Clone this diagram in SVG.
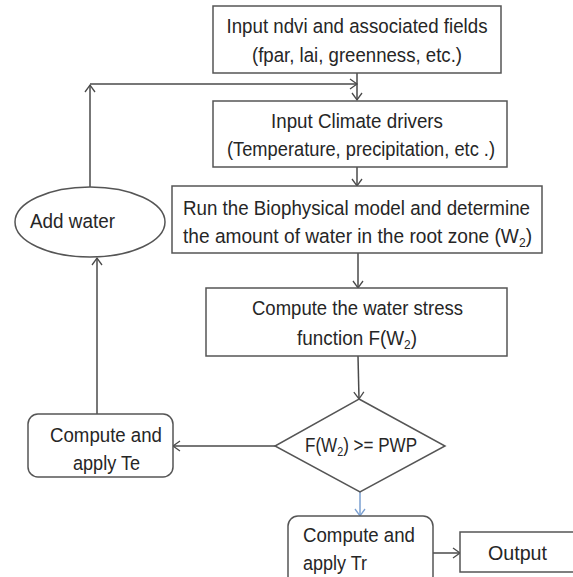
<svg xmlns="http://www.w3.org/2000/svg" width="573" height="577" viewBox="0 0 573 577">
<defs>
<style>
.box{fill:#fff;stroke:#555;stroke-width:1.5}
.t{font-family:"Liberation Sans",Arial,sans-serif;font-size:20.5px;fill:#262626}
.c{stroke:#4a4a4a;stroke-width:1.5;fill:none;marker-end:url(#ah)}
.cb{stroke:#7a9fd0;stroke-width:1.5;fill:none;marker-end:url(#ahb)}
.sub{font-size:13px}
</style>
<marker id="ah" markerWidth="10" markerHeight="12" refX="8" refY="6" orient="auto" markerUnits="userSpaceOnUse">
<path d="M1,1 L8,6 L1,11" fill="none" stroke="#4a4a4a" stroke-width="1.3"/>
</marker>
<marker id="ahb" markerWidth="10" markerHeight="12" refX="8" refY="6" orient="auto" markerUnits="userSpaceOnUse">
<path d="M1,1 L8,6 L1,11" fill="none" stroke="#7a9fd0" stroke-width="1.3"/>
</marker>
</defs>
<rect width="573" height="577" fill="#fff"/>
<g id="connectors">
<line class="c" x1="357" y1="73" x2="357" y2="100"/>
<line class="c" x1="357" y1="167" x2="357" y2="186"/>
<line class="c" x1="358" y1="253" x2="358" y2="288"/>
<line class="c" x1="358" y1="356" x2="359" y2="399"/>
<line class="cb" x1="360" y1="492" x2="360" y2="516"/>
<line class="c" x1="433" y1="553" x2="460" y2="553"/>
<line class="c" x1="275" y1="446" x2="173" y2="446"/>
<line class="c" x1="97" y1="414" x2="97" y2="258"/>
<line class="c" x1="90" y1="187" x2="90" y2="85"/>
<line class="c" x1="90" y1="84" x2="357" y2="84"/>
</g>
<g id="n1">
<rect class="box" x="213" y="6" width="288" height="67"/>
<text class="t" x="357" y="33" text-anchor="middle" textLength="261" lengthAdjust="spacingAndGlyphs">Input ndvi and associated fields</text>
<text class="t" x="357" y="62" text-anchor="middle" textLength="210" lengthAdjust="spacingAndGlyphs">(fpar, lai, greenness, etc.)</text>
</g>
<g id="n2">
<rect class="box" x="213" y="101" width="294" height="66"/>
<text class="t" x="357" y="128" text-anchor="middle" textLength="172" lengthAdjust="spacingAndGlyphs">Input Climate drivers</text>
<text class="t" x="361" y="156" text-anchor="middle" textLength="268" lengthAdjust="spacingAndGlyphs">(Temperature, precipitation, etc .)</text>
</g>
<g id="n3">
<rect class="box" x="172" y="186" width="370" height="67"/>
<text class="t" x="356.5" y="215" text-anchor="middle" textLength="347" lengthAdjust="spacingAndGlyphs">Run the Biophysical model and determine</text>
<text class="t" x="357.5" y="243" text-anchor="middle" textLength="349" lengthAdjust="spacingAndGlyphs">the amount of water in the root zone (W<tspan class="sub" dy="4">2</tspan><tspan dy="-4">)</tspan></text>
</g>
<g id="n4">
<rect class="box" x="206" y="288" width="301" height="68"/>
<text class="t" x="357.5" y="315" text-anchor="middle" textLength="211" lengthAdjust="spacingAndGlyphs">Compute the water stress</text>
<text class="t" x="357" y="345" text-anchor="middle" textLength="120" lengthAdjust="spacingAndGlyphs">function F(W<tspan class="sub" dy="4">2</tspan><tspan dy="-4">)</tspan></text>
</g>
<g id="n5">
<polygon class="box" points="359,399 445,446 360,492 275,446"/>
<text class="t" x="361" y="452" text-anchor="middle" textLength="112" lengthAdjust="spacingAndGlyphs">F(W<tspan class="sub" dy="4">2</tspan><tspan dy="-4">) &gt;= PWP</tspan></text>
</g>
<g id="n6">
<ellipse class="box" cx="90" cy="222" rx="75" ry="35"/>
<text class="t" x="72.5" y="228" text-anchor="middle" textLength="85" lengthAdjust="spacingAndGlyphs">Add water</text>
</g>
<g id="n7">
<rect class="box" x="28" y="414" width="145" height="63" rx="10"/>
<text class="t" x="106" y="442" text-anchor="middle" textLength="112" lengthAdjust="spacingAndGlyphs">Compute and</text>
<text class="t" x="106.5" y="470" text-anchor="middle" textLength="67" lengthAdjust="spacingAndGlyphs">apply Te</text>
</g>
<g id="n8">
<rect class="box" x="288" y="516" width="145" height="70" rx="10"/>
<text class="t" x="303" y="542" textLength="112" lengthAdjust="spacingAndGlyphs">Compute and</text>
<text class="t" x="303" y="570" textLength="64" lengthAdjust="spacingAndGlyphs">apply Tr</text>
</g>
<g id="n9">
<rect class="box" x="460" y="532" width="120" height="40"/>
<text class="t" x="517.5" y="560" text-anchor="middle" textLength="59" lengthAdjust="spacingAndGlyphs">Output</text>
</g>
</svg>
